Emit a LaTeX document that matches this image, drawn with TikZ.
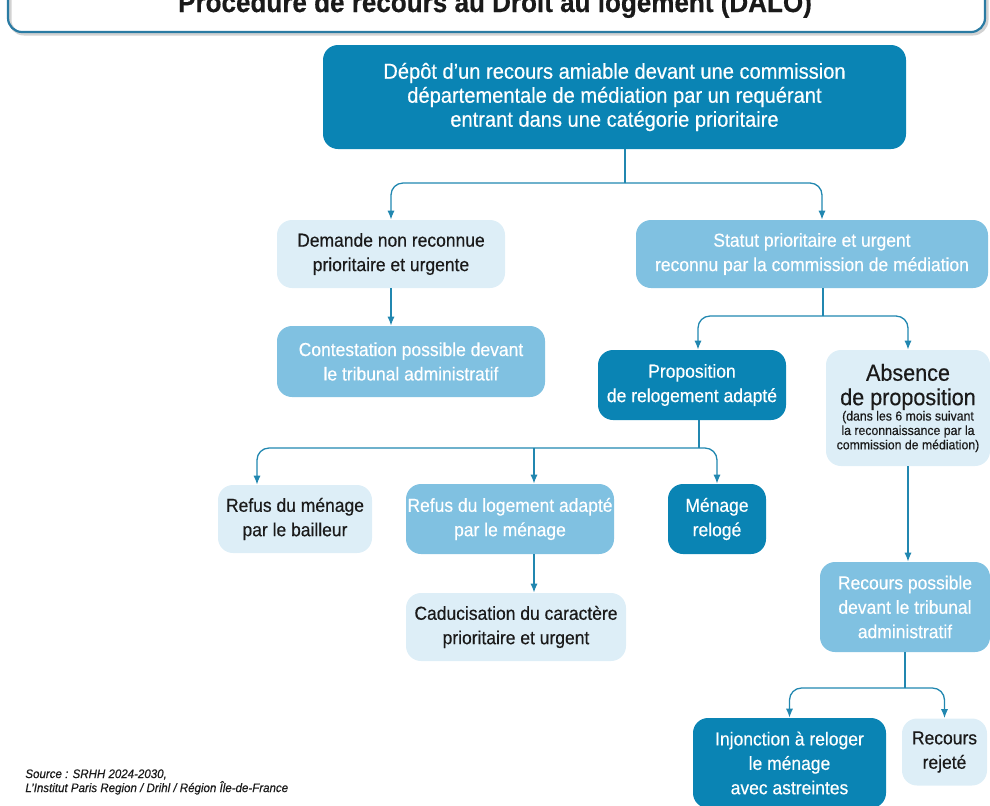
\documentclass[tikz,border=0pt]{standalone}
\usepackage{fontspec}
\setmainfont{Liberation Sans}[FakeStretch=0.93,FakeBold=0.4]
\usetikzlibrary{arrows.meta,positioning}
\definecolor{cdark}{HTML}{0A84B4}
\definecolor{cmid}{HTML}{80C1E1}
\definecolor{clight}{HTML}{DDEEF7}
\definecolor{cline}{HTML}{2187B0}
\definecolor{cframe}{HTML}{2A7BA3}
\definecolor{ctext}{HTML}{1A1A1A}
\tikzset{
  box/.style={rectangle,rounded corners=7.5pt,draw=none,align=center,
    inner sep=0pt,font=\fontsize{9.4}{12.2}\selectfont},
  darkbox/.style={box,fill=cdark,text=white},
  midbox/.style={box,fill=cmid,text=white},
  lightbox/.style={box,fill=clight,text=ctext},
  % connectors: thin teal lines, small filled tips
  conn/.style={cline,line width=0.65pt},
  arr/.style={conn,-{Latex[length=4.5pt,width=3.6pt]},rounded corners=6pt}
}
\newcommand{\abslg}{\fontsize{11.6}{12}\selectfont}
\newcommand{\abssm}{\fontsize{6.6}{7.2}\selectfont}

\begin{document}
\begin{tikzpicture}[x=0.5pt,y=-0.5pt]
  \useasboundingbox (0,0) rectangle (990,805);
  \clip (0,0) rectangle (990,805);
  % title frame, cut at the top
  \draw[gray!35,line width=1.5pt,rounded corners=7pt] (10,-30) -- (10,34) -- (987,34) -- (987,-30);
  \draw[cframe,line width=1.1pt,rounded corners=7pt] (8,-30) -- (8,32) -- (985,32) -- (985,-30);
  \node[anchor=base,font=\bfseries\fontsize{14}{16}\selectfont,text=ctext] (titre) at (495,12)
    {Procédure de recours au Droit au logement (DALO)};

  \node[darkbox,font=\fontsize{10.8}{12}\selectfont,minimum width=291.5pt,minimum height=52pt] (top) at (614.5,97)
    {Dépôt d’un recours amiable devant une commission\\départementale de médiation par un requérant\\entrant dans une catégorie prioritaire};
  \node[lightbox,minimum width=114pt,minimum height=34pt] (demande) at (391,254)
    {Demande non reconnue\\prioritaire et urgente};
  \node[midbox,minimum width=176pt,minimum height=34pt] (statut) at (812,254)
    {Statut prioritaire et urgent\\reconnu par la commission de médiation};
  \node[midbox,minimum width=134pt,minimum height=35.5pt] (contest) at (411,361.5)
    {Contestation possible devant\\le tribunal administratif};
  \node[darkbox,minimum width=94pt,minimum height=35pt] (propo) at (692,385)
    {Proposition\\de relogement adapté};
  \node[lightbox,minimum width=82pt,minimum height=58pt] (absence) at (908,408)
    {\abslg Absence\\\abslg de proposition\\[-4.5pt]\abssm (dans les 6 mois suivant\\[-5pt]\abssm la reconnaissance par la\\[-5pt]\abssm commission de médiation)};
  \node[lightbox,minimum width=77pt,minimum height=34pt] (refusm) at (295,519)
    {Refus du ménage\\par le bailleur};
  \node[midbox,minimum width=104pt,minimum height=35pt] (refusl) at (510,519)
    {Refus du logement adapté\\par le ménage};
  \node[darkbox,minimum width=49pt,minimum height=35pt] (menage) at (717,519)
    {Ménage\\relogé};
  \node[lightbox,minimum width=110pt,minimum height=34pt] (caduc) at (516,627)
    {Caducisation du caractère\\prioritaire et urgent};
  \node[midbox,minimum width=85pt,minimum height=45pt] (recpos) at (905,607)
    {Recours possible\\devant le tribunal\\administratif};
  \node[darkbox,minimum width=96.5pt,minimum height=45pt] (injonc) at (789.5,763)
    {Injonction à reloger\\le ménage\\avec astreintes};
  \node[lightbox,minimum width=42.5pt,minimum height=33.5pt] (rejete) at (944.5,752)
    {Recours\\rejeté};

  % branchings
  \coordinate (j1) at (625,183);
  \draw[conn] (top.south -| j1) -- (j1);
  \draw[arr] (j1) -| (demande.north);
  \draw[arr] (j1) -| ([xshift=5pt]statut.north);
  \draw[arr] (demande.south) -- (demande.south |- contest.north);
  \coordinate (j2) at (823,316);
  \draw[conn] (statut.south -| j2) -- (j2);
  \draw[arr] (j2) -| ([xshift=3pt]propo.north);
  \draw[arr] (j2) -| (absence.north);
  \coordinate (j3) at (699,448);
  \draw[conn] (propo.south -| j3) -- (j3);
  \draw[arr] (j3) -| ([xshift=-19pt]refusm.north);
  \draw[arr] (j3) -| (menage.north);
  \draw[arr] ([xshift=12pt]refusl.north |- j3) -- ([xshift=12pt]refusl.north);
  \draw[arr] ([xshift=12pt]refusl.south) -- ([xshift=12pt]refusl.south |- caduc.north);
  \draw[arr] (absence.south) -- (absence.south |- recpos.north);
  \coordinate (j4) at (905,688);
  \draw[conn] (recpos.south) -- (j4);
  \draw[arr] (j4) -| (injonc.north);
  \draw[arr] (j4) -| (rejete.north);

  \node[anchor=north west,align=left,inner sep=0pt,font=\itshape\fontsize{6.2}{7}\selectfont,text=ctext] (source) at (25,769)
    {Source : SRHH 2024-2030,\\L’Institut Paris Region / Drihl / Région Île-de-France};
\end{tikzpicture}
\end{document}
